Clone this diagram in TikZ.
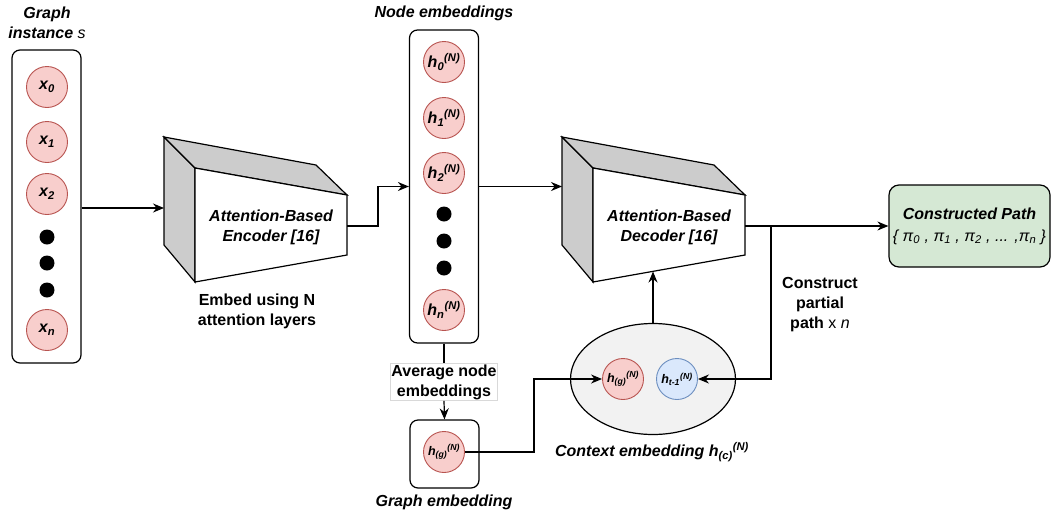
\documentclass[tikz,border=0pt]{standalone}
\usepackage{fontspec}
\setmainfont{Liberation Sans}
\usetikzlibrary{arrows.meta,shapes.geometric,positioning}

\definecolor{nodered}{HTML}{F8CECC}
\definecolor{nodeedge}{HTML}{B85450}
\definecolor{ctxblue}{HTML}{DAE8FC}
\definecolor{ctxedge}{HTML}{6C8EBF}
\definecolor{ctxgray}{HTML}{F2F2F2}
\definecolor{pathgreen}{HTML}{D5E8D4}

\newcommand{\bigfont}{\fontsize{16}{20}\selectfont}
\newcommand{\smallfont}{\fontsize{12.5}{14}\selectfont}

\begin{document}
\begin{tikzpicture}[x=1pt, y=-1pt, line width=1.2pt]

% definitions
\tikzstyle{column} = [rectangle, rounded corners=8pt, draw=black, fill=white, minimum width=69pt, inner sep=0pt]

\tikzstyle{feature} = [circle, minimum size=41pt, inner sep=0pt, draw=nodeedge, fill=nodered, line width=0.9pt, font=\bigfont\bfseries\itshape]

\tikzstyle{small feature} = [feature, font=\smallfont\bfseries\itshape]

\tikzstyle{dot} = [circle, minimum size=15pt, inner sep=0pt, fill=black]

\tikzstyle{title} = [align=center, font=\bigfont\bfseries\itshape]

\tikzstyle{note} = [align=center, font=\bigfont\bfseries]

\tikzstyle{arrow} = [->, >={Stealth[length=11pt, width=9pt]}]

\useasboundingbox (0,0) rectangle (1051,509);

% graph instance
\node (inst) [column, minimum height=313pt] at (46.5,206.5) {};
\node (inst-title) [title] at (47,23) {Graph\\instance \textmd{s}};
\node (x0) [feature] at (47,87) {x\textsubscript{0}};
\node (x1) [feature] at (47,142) {x\textsubscript{1}};
\node (x2) [feature] at (47,194) {x\textsubscript{2}};
\node (d1) [dot] at (47,237) {};
\node (d2) [dot] at (47,263) {};
\node (d3) [dot] at (47,290) {};
\node (xn) [feature] at (47,330) {x\textsubscript{n}};

% encoder
\filldraw [fill=gray!40] (164,137) -- (195,168) -- (195,282) -- (164,245) -- cycle;
\filldraw [fill=gray!40] (164,137) -- (316,165) -- (347,195) -- (195,168) -- cycle;
\filldraw [fill=white] (195,168) -- (347,195) -- (347,255) -- (195,282) -- cycle;
\coordinate (enc-in) at (164,208);
\coordinate (enc-out) at (347,226);
\node (enc) [title] at (271,227) {Attention-Based\\Encoder [16]};
\node (enc-note) [note] at (257,311) {Embed using N\\attention layers};

% node embeddings
\node (emb) [column, minimum height=313pt] at (444,186.5) {};
\node (emb-title) [title] at (444,13) {Node embeddings};
\node (h0) [feature] at (444,62) {h\textsubscript{0}\textsuperscript{(N)}};
\node (h1) [feature] at (444,118) {h\textsubscript{1}\textsuperscript{(N)}};
\node (h2) [feature] at (444,173) {h\textsubscript{2}\textsuperscript{(N)}};
\node (e1) [dot] at (444,214) {};
\node (e2) [dot] at (444,241) {};
\node (e3) [dot] at (444,268) {};
\node (hn) [feature] at (444,310) {h\textsubscript{n}\textsuperscript{(N)}};

% graph embedding
\node (avg) [note, draw=gray!30, fill=white, line width=0.8pt, inner sep=1pt] at (444,382) {Average node\\embeddings};
\node (gbox) [column, minimum height=68pt] at (444.5,454) {};
\node (hg) [small feature] at (444,452) {h\textsubscript{(g)}\textsuperscript{(N)}};
\node (gbox-title) [title, anchor=base] at (444,506) {Graph embedding};

% decoder
\filldraw [fill=gray!40] (562,137) -- (593,168) -- (593,282) -- (562,245) -- cycle;
\filldraw [fill=gray!40] (562,137) -- (714,165) -- (745,195) -- (593,168) -- cycle;
\filldraw [fill=white] (593,168) -- (745,195) -- (745,255) -- (593,282) -- cycle;
\coordinate (dec-in) at (562,186.5);
\coordinate (dec-out) at (745,226);
\coordinate (dec-bot) at (653,271.5);
\node (dec) [title] at (669,227) {Attention-Based\\Decoder [16]};

% context embedding
\node (ctx) [ellipse, draw=black, fill=ctxgray, minimum width=165pt, minimum height=111pt] at (653,379) {};
\node (hg2) [small feature] at (623,379) {h\textsubscript{(g)}\textsuperscript{(N)}};
\node (ht) [small feature, draw=ctxedge, fill=ctxblue] at (677,379) {h\textsubscript{t-1}\textsuperscript{(N)}};
\node (ctx-title) [title] at (652,452) {Context embedding h\textsubscript{(c)}\textsuperscript{(N)}};

% output
\node (path) [rectangle, rounded corners=10pt, draw=black, fill=pathgreen, minimum width=161pt, minimum height=82pt] at (969.5,226) {};
\node (path-title) [title] at (969.5,214) {Constructed Path};
\node (path-seq) [font=\fontsize{16}{18}\selectfont\itshape] at (969.5,237) {\{ π\textsubscript{0} , π\textsubscript{1} , π\textsubscript{2} , ... ,π\textsubscript{n} \}};
\coordinate (split) at (771,226);
\node (cpp) [note] at (820,305) {Construct\\partial\\path \textmd{x \textit{n}}};

% connections
\draw [arrow] (inst.east |- enc-in) -- (enc-in);
\draw [arrow] (enc-out) -- ++(31,0) |- (emb.west);
\draw [arrow] (emb.east) -- (dec-in);
\draw (emb.south) -- (avg.north);
\draw [arrow] (avg.south) -- (gbox.north);
\draw [arrow] (hg.east) -- ++(69,0) |- (hg2.west);
\draw [arrow] (ctx.north) -- (dec-bot);
\draw [arrow] (dec-out) -- (path.west);
\draw [arrow] (split) |- (ht.east);

\end{tikzpicture}
\end{document}
